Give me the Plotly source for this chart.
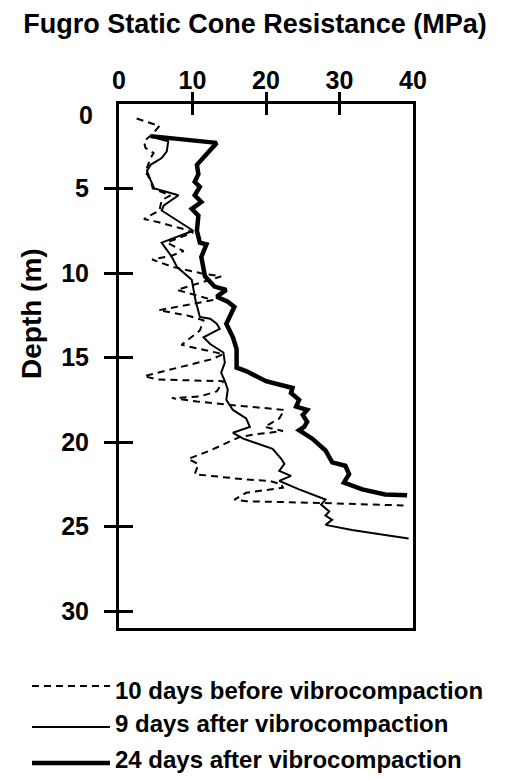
import plotly.graph_objects as go

# ---------------- data ----------------
before_depth = [0.86, 1.3, 1.8, 2.2, 2.6, 2.9, 3.2, 3.6, 4.0, 4.5, 5.0, 5.4, 5.7, 6.3, 6.8, 7.0, 7.4, 7.6,
                8.2, 8.7, 9.0, 9.2, 9.65, 10.0, 10.2, 11.0, 11.6, 12.2, 12.5, 12.8, 13.4, 14.25, 14.5, 14.8,
                15.1, 15.5, 16.1, 16.3, 16.4, 17.0, 17.3, 17.4, 17.6, 17.8, 18.1, 18.6, 19.1, 19.35, 19.55,
                19.7, 20.5, 21.0, 21.3, 21.9, 22.2, 22.3, 22.5, 22.7, 23.0, 23.4, 23.5, 23.6, 23.7, 23.75]
before_qc = [2.4, 5.5, 4.5, 3.4, 3.6, 4.7, 4.3, 4.0, 3.6, 4.3, 4.6, 7.0, 5.8, 5.5, 3.4, 5.4, 8.8, 10.1,
             6.5, 8.8, 7.0, 4.5, 7.4, 11.0, 13.9, 7.9, 12.8, 5.4, 9.2, 11.5, 11.0, 8.5, 11.0, 14.2,
             12.6, 8.8, 3.4, 5.2, 14.2, 13.3, 11.0, 7.2, 10.6, 15.1, 22.5, 21.8, 19.8, 22.3, 18.4,
             16.4, 12.4, 9.4, 10.8, 10.3, 16.9, 20.5, 22.1, 22.3, 17.3, 15.7, 17.3, 27.2, 33.5, 38.7]

after9_depth = [1.95, 2.2, 2.8, 3.2, 3.6, 3.96, 4.5, 5.0, 5.4, 6.0, 6.3, 7.5, 8.2, 9.05, 9.65, 10.4, 11.6,
                12.6, 12.7, 13.0, 13.3, 13.8, 14.2, 14.7, 15.3, 15.9, 16.4, 16.9, 17.5, 18.1, 18.6, 19.1,
                19.45, 19.8, 20.4, 21.0, 21.3, 21.7, 22.0, 22.3, 22.8, 23.4, 23.7, 24.1, 24.35, 24.6, 24.9,
                25.2, 25.5, 25.7]
after9_qc = [4.5, 6.7, 6.5, 5.8, 4.3, 3.8, 4.3, 4.8, 8.1, 6.1, 5.8, 10.1, 5.8, 7.2, 7.9, 9.9, 10.4,
             11.0, 12.4, 13.3, 13.7, 11.5, 12.4, 14.2, 14.4, 13.9, 14.4, 14.8, 14.6, 15.5, 17.3, 17.8,
             15.5, 16.9, 20.9, 22.1, 22.5, 21.8, 23.4, 21.8, 24.5, 28.1, 27.5, 28.6, 28.1, 29.0, 28.1,
             31.7, 36.2, 39.4]

after24_depth = [1.9, 2.3, 3.6, 4.15, 4.6, 4.9, 5.4, 5.8, 6.2, 6.6, 7.5, 8.2, 8.3, 9.05, 10.2, 10.8, 11.0,
                 11.4, 11.7, 12.0, 13.0, 13.8, 14.5, 15.6, 15.8, 16.4, 16.7, 16.8, 17.1, 17.5, 17.9, 18.1,
                 18.4, 18.8, 19.1, 19.3, 19.8, 20.5, 21.2, 21.4, 21.9, 22.4, 22.8, 23.1, 23.15]
after24_qc = [4.3, 13.3, 10.6, 10.8, 10.3, 11.0, 10.3, 11.2, 9.9, 10.8, 10.6, 11.0, 11.9, 11.2, 11.7, 13.0,
              14.6, 13.3, 14.8, 15.7, 14.6, 15.5, 16.0, 16.0, 17.3, 20.0, 22.7, 23.6, 23.4, 24.5, 24.1,
              25.6, 25.0, 25.6, 25.2, 24.5, 26.3, 28.1, 29.0, 30.8, 31.3, 30.6, 33.1, 36.2, 39.2]

x_ticks = [0, 10, 20, 30, 40]
y_ticks = [0, 5, 10, 15, 20, 25, 30]
series_names = ["10 days before vibrocompaction", "9 days after vibrocompaction",
                "24 days after vibrocompaction"]

# ---------------- layout constants ----------------
W, H = 510, 781
ML, MR, MT, MB = 119, 97, 104, 153
FONT = "Liberation Sans, Arial, Helvetica, sans-serif"
PW, PH = W - ML - MR, H - MT - MB
X_RANGE = [0, 40]
Y_RANGE = [31, 0]


def px_x(px):
    return (px - ML) / PW


def px_y(py):
    return (H - MB - py) / PH


fig = go.Figure()
# each trace sits on its own (overlaid, identical) axis pair so that the
# outward and inward tick sets are both drawn, giving crossing ticks
fig.add_trace(go.Scatter(x=before_qc, y=before_depth, mode="lines", name=series_names[0],
                         xaxis="x2", yaxis="y2",
                         line=dict(color="black", width=2, dash="7px,5px")))
fig.add_trace(go.Scatter(x=after9_qc, y=after9_depth, mode="lines", name=series_names[1],
                         xaxis="x3", yaxis="y3",
                         line=dict(color="black", width=2)))
fig.add_trace(go.Scatter(x=after24_qc, y=after24_depth, mode="lines", name=series_names[2],
                         xaxis="x", yaxis="y",
                         line=dict(color="black", width=4.5)))

tickfont = dict(family=FONT, size=25, color="black", weight="bold")
common = dict(showgrid=False, zeroline=False)

fig.update_layout(
    width=W, height=H, margin=dict(l=ML, r=MR, t=MT, b=MB),
    paper_bgcolor="white", plot_bgcolor="white", showlegend=False,
    title=dict(text="Fugro Static Cone Resistance (MPa)", x=0.5, xref="container",
               y=1 - 24 / H, yref="container", xanchor="center", yanchor="middle",
               font=dict(family=FONT, size=27, color="black", weight="bold")),
    xaxis=dict(side="top", range=X_RANGE, tickvals=x_ticks, ticktext=[str(v) for v in x_ticks],
               ticks="", showline=True, linewidth=3, linecolor="black", mirror=True,
               tickfont=tickfont, ticklabelstandoff=2, **common),
    yaxis=dict(range=Y_RANGE, tickvals=y_ticks, ticktext=[""] + [str(v) for v in y_ticks[1:]],
               ticks="", showline=True, linewidth=3, linecolor="black", mirror=True,
               tickfont=tickfont, ticklabelstandoff=22, **common),
    xaxis2=dict(overlaying="x", anchor="y2", side="top", range=X_RANGE, tickvals=x_ticks[1:-1],
                ticks="outside", ticklen=11, tickwidth=3, tickcolor="black",
                showticklabels=False, showline=False, **common),
    yaxis2=dict(overlaying="y", anchor="x2", side="left", range=Y_RANGE, tickvals=y_ticks[1:],
                ticks="outside", ticklen=14, tickwidth=3, tickcolor="black",
                showticklabels=False, showline=False, **common),
    xaxis3=dict(overlaying="x", anchor="y3", side="top", range=X_RANGE, tickvals=x_ticks[1:-1],
                ticks="inside", ticklen=11, tickwidth=3, tickcolor="black",
                showticklabels=False, showline=False, **common),
    yaxis3=dict(overlaying="y", anchor="x3", side="left", range=Y_RANGE, tickvals=y_ticks[1:],
                ticks="inside", ticklen=14, tickwidth=3, tickcolor="black",
                showticklabels=False, showline=False, **common),
)

# y tick label "0" drawn slightly below the corner, as in the original
fig.add_annotation(text="0", x=px_x(95), xref="paper", y=y_ticks[0], yref="y", yshift=-11,
                   xanchor="right", yanchor="middle", showarrow=False, font=tickfont)

# y-axis title
fig.add_annotation(text="<b>Depth (m)</b>", x=px_x(31), y=px_y(314), xref="paper", yref="paper",
                   textangle=-90, showarrow=False, xanchor="center", yanchor="middle",
                   font=dict(family=FONT, size=28, color="black"))

# legend (drawn manually to reproduce the long line samples)
leg_styles = [dict(width=2, dash="7px,5px"), dict(width=2), dict(width=4.5)]
leg_line_y = [686, 727, 763]
leg_text_y = [690.5, 723, 759]
for name, st, ly, ty in zip(series_names, leg_styles, leg_line_y, leg_text_y):
    fig.add_shape(type="line", xref="paper", yref="paper", x0=px_x(32), x1=px_x(110),
                  y0=px_y(ly), y1=px_y(ly), line=dict(color="black", **st))
    fig.add_annotation(text="<b>" + name + "</b>", x=px_x(113), y=px_y(ty), xref="paper",
                       yref="paper", xanchor="left", yanchor="middle", showarrow=False,
                       font=dict(family=FONT, size=24, color="black"))

fig.write_html("out.html")
